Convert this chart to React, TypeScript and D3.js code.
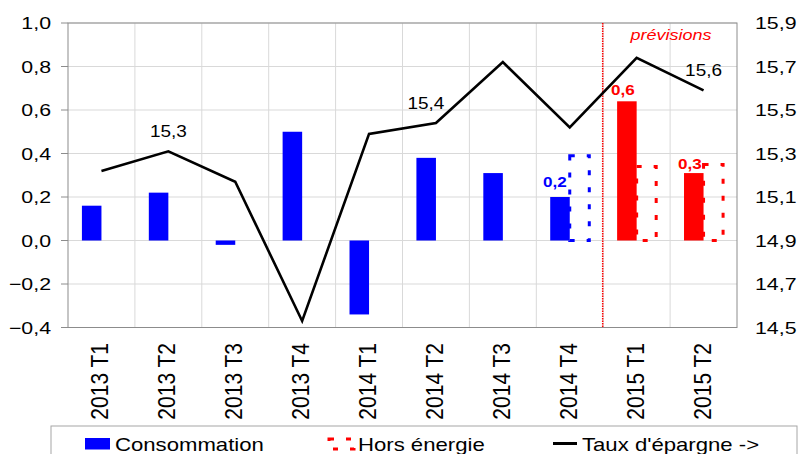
import React from "react";
import * as d3 from "d3";

const categories = ["2013 T1", "2013 T2", "2013 T3", "2013 T4", "2014 T1", "2014 T2", "2014 T3", "2014 T4", "2015 T1", "2015 T2"];
const consommation = [0.16, 0.22, -0.02, 0.5, -0.34, 0.38, 0.31, 0.2, 0.64, 0.31];
const horsEnergie: (number | null)[] = [null, null, null, null, null, null, null, 0.39, 0.34, 0.35];
const tauxEpargne = [15.22, 15.31, 15.17, 14.53, 15.39, 15.44, 15.72, 15.42, 15.74, 15.59];
const leftTicks = [-0.4, -0.2, 0.0, 0.2, 0.4, 0.6, 0.8, 1.0];
const rightTicks = [14.5, 14.7, 14.9, 15.1, 15.3, 15.5, 15.7, 15.9];
const lineLabelIdx = [1, 5, 9];
const barLabelIdx = [7, 8, 9];
const forecastStart = 8;

const W = 799, H = 454;
const M = { left: 68, right: 737, top: 23, bottom: 327.5 };
const FONT = "'Liberation Sans', Arial, sans-serif";
const BLUE = "#0000ff";
const RED = "#ff0000";
const SX = 1.2;

const fmt = (v: number) => d3.format(".1f")(v).replace(".", ",");

function T({ x, y, children, anchor = "start", size = 17, fill = "#000", weight = "normal", style = "normal", sx = SX }: any) {
  return (
    <text transform={`translate(${x},${y}) scale(${sx},1)`} textAnchor={anchor} fontSize={size} fill={fill}
      fontWeight={weight} fontStyle={style} fontFamily={FONT}>{children}</text>
  );
}

export default function App() {
  const x = d3.scaleBand<string>().domain(categories).range([M.left, M.right]).paddingInner(0).paddingOuter(0);
  const bw = x.bandwidth();
  const xs = d3.scaleBand<string>().domain(["cons", "hors"]).range([bw * 0.208, bw * 0.792]);
  const y = d3.scaleLinear().domain([-0.4, 1.0]).range([M.bottom, M.top]);
  const y2 = d3.scaleLinear().domain([14.5, 15.9]).range([M.bottom, M.top]);
  const cx = (c: string) => (x(c) as number) + bw / 2;
  const line = d3.line<number>().x((_, i) => cx(categories[i])).y((d) => y2(d));
  const sw = xs.bandwidth();

  return (
    <svg width={W} height={H} style={{ position: "absolute", left: 0, top: 0, background: "#fff" }}>
      <rect x={0} y={0} width={W} height={H} fill="#fff" />
      {/* grid */}
      {leftTicks.map((t) => (
        <line key={"gh" + t} x1={M.left} x2={M.right} y1={y(t)} y2={y(t)} stroke="#d9d9d9" strokeWidth={1} />
      ))}
      {categories.slice(1).map((c) => (
        <line key={"gv" + c} x1={x(c)} x2={x(c)} y1={M.top} y2={M.bottom} stroke="#d9d9d9" strokeWidth={1} />
      ))}
      {/* plot border */}
      <rect x={M.left} y={M.top} width={M.right - M.left} height={M.bottom - M.top} fill="none" stroke="#8c8c8c" strokeWidth={1} />
      {/* left ticks */}
      {leftTicks.map((t) => (
        <g key={"lt" + t}>
          <line x1={M.left - 7} x2={M.left} y1={y(t)} y2={y(t)} stroke="#8c8c8c" />
          <T x={51} y={y(t) + 6.2} anchor="end" size={17.2} sx={1.24}>{fmt(t)}</T>
        </g>
      ))}
      {/* right ticks */}
      {rightTicks.map((t) => (
        <T key={"rt" + t} x={755} y={y2(t) + 6.2} anchor="start" size={17.2} sx={1.24}>{fmt(t)}</T>
      ))}
      {/* x labels */}
      {categories.map((c) => (
        <text key={"xl" + c} transform={`translate(${cx(c) + 7},343) scale(1.1,1) rotate(-90)`} textAnchor="end"
          fontSize={21} fontFamily={FONT} fill="#000">{c}</text>
      ))}
      {/* consommation bars */}
      {consommation.map((v, i) => {
        const c = categories[i];
        const bx = (x(c) as number) + (xs("cons") as number);
        return (
          <rect key={"cb" + i} x={bx} y={y(Math.max(0, v))} width={sw} height={Math.abs(y(v) - y(0))}
            fill={i >= forecastStart ? RED : BLUE} />
        );
      })}
      {/* hors energie dashed bars */}
      {horsEnergie.map((v, i) => {
        if (v == null) return null;
        const c = categories[i];
        const bx = (x(c) as number) + (xs("hors") as number);
        return (
          <rect key={"hb" + i} x={bx} y={y(v)} width={sw} height={y(0) - y(v)} fill="none"
            stroke={i >= forecastStart ? RED : BLUE} strokeWidth={3} strokeDasharray="5,12" />
        );
      })}
      {/* forecast separator */}
      <line x1={(x(categories[forecastStart]) as number) - 0.5} x2={(x(categories[forecastStart]) as number) - 0.5} y1={M.top} y2={M.bottom}
        stroke={RED} strokeWidth={1.5} strokeDasharray="1.5,1" />
      <T x={671} y={40} anchor="middle" size={15} fill={RED} style="italic" sx={1.2}>prévisions</T>
      {/* line */}
      <path d={line(tauxEpargne) || ""} fill="none" stroke="#000" strokeWidth={2.6} strokeLinejoin="miter" />
      {lineLabelIdx.map((i) => (
        <T key={"ll" + i} x={cx(categories[i]) - (i === 5 ? 10 : 0)} y={y2(tauxEpargne[i]) - 14.5} anchor="middle" size={16.5} sx={1.15}>
          {fmt(tauxEpargne[i])}
        </T>
      ))}
      {/* bar labels */}
      {barLabelIdx.map((i) => {
        const c = categories[i];
        const bx = (x(c) as number) + (xs("cons") as number);
        const v = consommation[i];
        const isF = i >= forecastStart;
        return isF ? (
          <T key={"bl" + i} x={bx + sw / 2 - 4} y={y(v) - (i === 8 ? 6 : 4)} anchor="middle" size={14} weight="bold" fill={RED} sx={1.22}>
            {fmt(v)}
          </T>
        ) : (
          <T key={"bl" + i} x={bx + sw - 3} y={y(v) - 10} anchor="end" size={14} weight="bold" fill={BLUE} sx={1.22}>
            {fmt(v)}
          </T>
        );
      })}
      {/* legend */}
      <rect x={51} y={426} width={746} height={50} fill="#fff" stroke="#a6a6a6" strokeWidth={1} />
      <rect x={85} y={438} width={25} height={11.5} fill={BLUE} />
      <T x={115} y={451} size={18.6} sx={1.19}>Consommation</T>
      <rect x={329} y={439} width={25} height={10} fill="none" stroke={RED} strokeWidth={3} strokeDasharray="5,12" />
      <T x={358} y={451} size={18.6} sx={1.19}>Hors énergie</T>
      <line x1={553} x2={577} y1={443.5} y2={443.5} stroke="#000" strokeWidth={3} />
      <T x={582} y={451} size={18.6} sx={1.19}>Taux d'épargne -&gt;</T>
    </svg>
  );
}
